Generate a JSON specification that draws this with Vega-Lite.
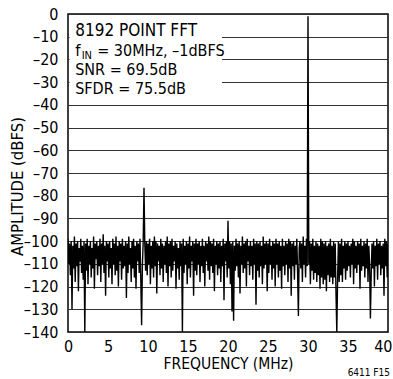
{
  "$schema": "https://vega.github.io/schema/vega-lite/v6.json",
  "width": 320,
  "height": 318,
  "autosize": "none",
  "padding": {"left": 68, "top": 14, "right": 5, "bottom": 47},
  "background": "white",
  "config": {
    "font": "DejaVu Sans Condensed",
    "view": {"stroke": "black", "strokeWidth": 1.5},
    "text": {"font": "DejaVu Sans Condensed", "fontWeight": "normal"},
    "axis": {"labelFont": "DejaVu Sans Condensed", "titleFont": "DejaVu Sans Condensed", "labelColor": "black", "titleColor": "black", "titleFontWeight": "normal"}
  },
  "data": {"values": [
{"f":0.0,"a":-99},{"f":0.1,"a":-110},{"f":0.2,"a":-101},{"f":0.3,"a":-115},{"f":0.4,"a":-100},{"f":0.5,"a":-130},{"f":0.6,"a":-102},{"f":0.7,"a":-112},{"f":0.8,"a":-98},{"f":0.9,"a":-118},
{"f":1.0,"a":-101},{"f":1.1,"a":-111},{"f":1.2,"a":-100},{"f":1.3,"a":-122},{"f":1.4,"a":-103},{"f":1.5,"a":-109},{"f":1.6,"a":-99},{"f":1.7,"a":-114},{"f":1.8,"a":-102},{"f":1.9,"a":-117},
{"f":2.0,"a":-100},{"f":2.1,"a":-140},{"f":2.2,"a":-101},{"f":2.3,"a":-113},{"f":2.4,"a":-99},{"f":2.5,"a":-119},{"f":2.6,"a":-102},{"f":2.7,"a":-110},{"f":2.8,"a":-100},{"f":2.9,"a":-116},
{"f":3.0,"a":-103},{"f":3.1,"a":-112},{"f":3.2,"a":-98},{"f":3.3,"a":-121},{"f":3.4,"a":-101},{"f":3.5,"a":-108},{"f":3.6,"a":-100},{"f":3.7,"a":-115},{"f":3.8,"a":-102},{"f":3.9,"a":-111},
{"f":4.0,"a":-99},{"f":4.1,"a":-118},{"f":4.2,"a":-101},{"f":4.3,"a":-110},{"f":4.4,"a":-97},{"f":4.5,"a":-114},{"f":4.6,"a":-102},{"f":4.7,"a":-124},{"f":4.8,"a":-100},{"f":4.9,"a":-109},
{"f":5.0,"a":-101},{"f":5.1,"a":-116},{"f":5.2,"a":-100},{"f":5.3,"a":-112},{"f":5.4,"a":-103},{"f":5.5,"a":-119},{"f":5.6,"a":-99},{"f":5.7,"a":-110},{"f":5.8,"a":-101},{"f":5.9,"a":-115},
{"f":6.0,"a":-98},{"f":6.1,"a":-113},{"f":6.2,"a":-102},{"f":6.3,"a":-120},{"f":6.4,"a":-100},{"f":6.5,"a":-109},{"f":6.6,"a":-101},{"f":6.7,"a":-117},{"f":6.8,"a":-99},{"f":6.9,"a":-112},
{"f":7.0,"a":-102},{"f":7.1,"a":-111},{"f":7.2,"a":-100},{"f":7.3,"a":-125},{"f":7.4,"a":-101},{"f":7.5,"a":-114},{"f":7.6,"a":-98},{"f":7.7,"a":-110},{"f":7.8,"a":-103},{"f":7.9,"a":-118},
{"f":8.0,"a":-100},{"f":8.1,"a":-112},{"f":8.2,"a":-99},{"f":8.3,"a":-116},{"f":8.4,"a":-102},{"f":8.5,"a":-121},{"f":8.6,"a":-100},{"f":8.7,"a":-109},{"f":8.8,"a":-101},{"f":8.9,"a":-114},
{"f":9.0,"a":-99},{"f":9.1,"a":-117},{"f":9.2,"a":-137},{"f":9.3,"a":-111},{"f":9.4,"a":-100},{"f":9.5,"a":-76.5},{"f":9.6,"a":-101},{"f":9.7,"a":-113},{"f":9.8,"a":-100},{"f":9.9,"a":-115},
{"f":10.0,"a":-101},{"f":10.1,"a":-110},{"f":10.2,"a":-99},{"f":10.3,"a":-119},{"f":10.4,"a":-102},{"f":10.5,"a":-112},{"f":10.6,"a":-100},{"f":10.7,"a":-116},{"f":10.8,"a":-98},{"f":10.9,"a":-111},
{"f":11.0,"a":-100},{"f":11.1,"a":-123},{"f":11.2,"a":-101},{"f":11.3,"a":-109},{"f":11.4,"a":-102},{"f":11.5,"a":-115},{"f":11.6,"a":-99},{"f":11.7,"a":-112},{"f":11.8,"a":-101},{"f":11.9,"a":-118},
{"f":12.0,"a":-102},{"f":12.1,"a":-110},{"f":12.2,"a":-100},{"f":12.3,"a":-114},{"f":12.4,"a":-98},{"f":12.5,"a":-120},{"f":12.6,"a":-101},{"f":12.7,"a":-111},{"f":12.8,"a":-100},{"f":12.9,"a":-116},
{"f":13.0,"a":-99},{"f":13.1,"a":-113},{"f":13.2,"a":-102},{"f":13.3,"a":-109},{"f":13.4,"a":-100},{"f":13.5,"a":-121},{"f":13.6,"a":-101},{"f":13.7,"a":-112},{"f":13.8,"a":-103},{"f":13.9,"a":-117},
{"f":14.0,"a":-100},{"f":14.1,"a":-111},{"f":14.2,"a":-101},{"f":14.3,"a":-140},{"f":14.4,"a":-99},{"f":14.5,"a":-114},{"f":14.6,"a":-102},{"f":14.7,"a":-110},{"f":14.8,"a":-100},{"f":14.9,"a":-119},
{"f":15.0,"a":-101},{"f":15.1,"a":-112},{"f":15.2,"a":-98},{"f":15.3,"a":-116},{"f":15.4,"a":-102},{"f":15.5,"a":-109},{"f":15.6,"a":-100},{"f":15.7,"a":-124},{"f":15.8,"a":-101},{"f":15.9,"a":-113},
{"f":16.0,"a":-99},{"f":16.1,"a":-115},{"f":16.2,"a":-101},{"f":16.3,"a":-110},{"f":16.4,"a":-100},{"f":16.5,"a":-118},{"f":16.6,"a":-102},{"f":16.7,"a":-111},{"f":16.8,"a":-99},{"f":16.9,"a":-114},
{"f":17.0,"a":-102},{"f":17.1,"a":-120},{"f":17.2,"a":-100},{"f":17.3,"a":-109},{"f":17.4,"a":-101},{"f":17.5,"a":-113},{"f":17.6,"a":-98},{"f":17.7,"a":-117},{"f":17.8,"a":-100},{"f":17.9,"a":-111},
{"f":18.0,"a":-101},{"f":18.1,"a":-114},{"f":18.2,"a":-99},{"f":18.3,"a":-122},{"f":18.4,"a":-102},{"f":18.5,"a":-110},{"f":18.6,"a":-100},{"f":18.7,"a":-115},{"f":18.8,"a":-101},{"f":18.9,"a":-112},
{"f":19.0,"a":-100},{"f":19.1,"a":-118},{"f":19.2,"a":-102},{"f":19.3,"a":-111},{"f":19.4,"a":-99},{"f":19.5,"a":-126},{"f":19.6,"a":-101},{"f":19.7,"a":-109},{"f":19.8,"a":-100},{"f":19.9,"a":-116},
{"f":20.0,"a":-91},{"f":20.1,"a":-112},{"f":20.2,"a":-100},{"f":20.3,"a":-119},{"f":20.4,"a":-101},{"f":20.5,"a":-131},{"f":20.6,"a":-100},{"f":20.7,"a":-135},{"f":20.8,"a":-102},{"f":20.9,"a":-113},
{"f":21.0,"a":-99},{"f":21.1,"a":-111},{"f":21.2,"a":-101},{"f":21.3,"a":-116},{"f":21.4,"a":-100},{"f":21.5,"a":-123},{"f":21.6,"a":-102},{"f":21.7,"a":-110},{"f":21.8,"a":-98},{"f":21.9,"a":-114},
{"f":22.0,"a":-101},{"f":22.1,"a":-112},{"f":22.2,"a":-100},{"f":22.3,"a":-120},{"f":22.4,"a":-99},{"f":22.5,"a":-109},{"f":22.6,"a":-102},{"f":22.7,"a":-115},{"f":22.8,"a":-100},{"f":22.9,"a":-111},
{"f":23.0,"a":-102},{"f":23.1,"a":-117},{"f":23.2,"a":-99},{"f":23.3,"a":-110},{"f":23.4,"a":-101},{"f":23.5,"a":-128},{"f":23.6,"a":-100},{"f":23.7,"a":-113},{"f":23.8,"a":-101},{"f":23.9,"a":-116},
{"f":24.0,"a":-100},{"f":24.1,"a":-111},{"f":24.2,"a":-102},{"f":24.3,"a":-119},{"f":24.4,"a":-98},{"f":24.5,"a":-112},{"f":24.6,"a":-101},{"f":24.7,"a":-110},{"f":24.8,"a":-100},{"f":24.9,"a":-122},
{"f":25.0,"a":-101},{"f":25.1,"a":-114},{"f":25.2,"a":-99},{"f":25.3,"a":-110},{"f":25.4,"a":-102},{"f":25.5,"a":-117},{"f":25.6,"a":-100},{"f":25.7,"a":-112},{"f":25.8,"a":-101},{"f":25.9,"a":-120},
{"f":26.0,"a":-99},{"f":26.1,"a":-110},{"f":26.2,"a":-101},{"f":26.3,"a":-116},{"f":26.4,"a":-100},{"f":26.5,"a":-113},{"f":26.6,"a":-102},{"f":26.7,"a":-121},{"f":26.8,"a":-99},{"f":26.9,"a":-111},
{"f":27.0,"a":-102},{"f":27.1,"a":-115},{"f":27.2,"a":-100},{"f":27.3,"a":-110},{"f":27.4,"a":-101},{"f":27.5,"a":-118},{"f":27.6,"a":-99},{"f":27.7,"a":-112},{"f":27.8,"a":-100},{"f":27.9,"a":-124},
{"f":28.0,"a":-101},{"f":28.1,"a":-111},{"f":28.2,"a":-100},{"f":28.3,"a":-117},{"f":28.4,"a":-102},{"f":28.5,"a":-110},{"f":28.6,"a":-99},{"f":28.7,"a":-114},{"f":28.8,"a":-133},{"f":28.9,"a":-103},
{"f":29.0,"a":-100},{"f":29.1,"a":-112},{"f":29.2,"a":-101},{"f":29.3,"a":-118},{"f":29.4,"a":-98},{"f":29.5,"a":-110},{"f":29.6,"a":-102},{"f":29.7,"a":-116},{"f":29.8,"a":-99},{"f":29.9,"a":-111},
{"f":30.0,"a":-1},{"f":30.1,"a":-110},{"f":30.2,"a":-100},{"f":30.3,"a":-119},{"f":30.4,"a":-101},{"f":30.5,"a":-113},{"f":30.6,"a":-99},{"f":30.7,"a":-117},{"f":30.8,"a":-102},{"f":30.9,"a":-114},
{"f":31.0,"a":-100},{"f":31.1,"a":-118},{"f":31.2,"a":-101},{"f":31.3,"a":-115},{"f":31.4,"a":-102},{"f":31.5,"a":-121},{"f":31.6,"a":-99},{"f":31.7,"a":-116},{"f":31.8,"a":-100},{"f":31.9,"a":-119},
{"f":32.0,"a":-101},{"f":32.1,"a":-117},{"f":32.2,"a":-100},{"f":32.3,"a":-122},{"f":32.4,"a":-102},{"f":32.5,"a":-115},{"f":32.6,"a":-101},{"f":32.7,"a":-118},{"f":32.8,"a":-99},{"f":32.9,"a":-116},
{"f":33.0,"a":-102},{"f":33.1,"a":-119},{"f":33.2,"a":-100},{"f":33.3,"a":-116},{"f":33.4,"a":-101},{"f":33.5,"a":-123},{"f":33.6,"a":-140},{"f":33.7,"a":-117},{"f":33.8,"a":-100},{"f":33.9,"a":-118},
{"f":34.0,"a":-101},{"f":34.1,"a":-115},{"f":34.2,"a":-99},{"f":34.3,"a":-118},{"f":34.4,"a":-102},{"f":34.5,"a":-112},{"f":34.6,"a":-100},{"f":34.7,"a":-117},{"f":34.8,"a":-101},{"f":34.9,"a":-113},
{"f":35.0,"a":-100},{"f":35.1,"a":-111},{"f":35.2,"a":-102},{"f":35.3,"a":-116},{"f":35.4,"a":-101},{"f":35.5,"a":-110},{"f":35.6,"a":-99},{"f":35.7,"a":-119},{"f":35.8,"a":-100},{"f":35.9,"a":-112},
{"f":36.0,"a":-102},{"f":36.1,"a":-114},{"f":36.2,"a":-100},{"f":36.3,"a":-110},{"f":36.4,"a":-101},{"f":36.5,"a":-121},{"f":36.6,"a":-99},{"f":36.7,"a":-113},{"f":36.8,"a":-102},{"f":36.9,"a":-111},
{"f":37.0,"a":-100},{"f":37.1,"a":-116},{"f":37.2,"a":-101},{"f":37.3,"a":-112},{"f":37.4,"a":-99},{"f":37.5,"a":-118},{"f":37.6,"a":-102},{"f":37.7,"a":-110},{"f":37.8,"a":-134},{"f":37.9,"a":-115},
{"f":38.0,"a":-101},{"f":38.1,"a":-112},{"f":38.2,"a":-100},{"f":38.3,"a":-120},{"f":38.4,"a":-102},{"f":38.5,"a":-111},{"f":38.6,"a":-99},{"f":38.7,"a":-117},{"f":38.8,"a":-101},{"f":38.9,"a":-110},
{"f":39.0,"a":-100},{"f":39.1,"a":-115},{"f":39.2,"a":-102},{"f":39.3,"a":-112},{"f":39.4,"a":-101},{"f":39.5,"a":-124},{"f":39.6,"a":-99},{"f":39.7,"a":-111},{"f":39.8,"a":-100},{"f":39.9,"a":-116},
{"f":40.0,"a":-101}
  ]},
  "layer": [
    {
      "mark": {"type": "line", "color": "black", "strokeWidth": 1.4, "clip": true, "interpolate": "linear"},
      "encoding": {
        "x": {"field": "f", "type": "quantitative", "scale": {"domain": [0, 40], "nice": false, "zero": false},
          "axis": {"values": [0,5,10,15,20,25,30,35,40], "labelOverlap": false, "labelFlush": false, "labelBound": false, "grid": false, "ticks": false, "domain": false, "labelFontSize": 16, "labelPadding": 6, "labelAlign": {"condition": {"test": "datum.value == 40", "value": "right"}, "value": "center"}, "labelOffset": {"condition": {"test": "datum.value == 40", "value": 4}, "value": 0}, "title": "FREQUENCY (MHz)", "titleFontSize": 15.5, "titlePadding": 2}},
        "y": {"field": "a", "type": "quantitative", "scale": {"domain": [-140, 0], "nice": false, "zero": false},
          "axis": {"values": [0,-10,-20,-30,-40,-50,-60,-70,-80,-90,-100,-110,-120,-130,-140], "labelOverlap": false, "labelFlush": false, "labelBound": false, "grid": true, "gridColor": "#333333", "gridWidth": 1, "gridOpacity": 1, "ticks": false, "domain": false, "labelFontSize": 16, "labelPadding": 10,
            "labelExpr": "replace(replace(datum.label, '\u2212', '\u2013'), '-', '\u2013')",
            "title": "AMPLITUDE (dBFS)", "titleFontSize": 16.5, "titleX": -43, "titleY": 172, "titleAngle": 270, "titleAlign": "center", "titleBaseline": "bottom"}}
      }
    },
    {
      "data": {"values": [{}]},
      "mark": {"type": "rect", "fill": "white", "stroke": null},
      "encoding": {
        "x": {"datum": 0.2, "type": "quantitative", "scale": {"domain": [0, 40], "nice": false, "zero": false},
          "axis": {"values": [0,5,10,15,20,25,30,35,40], "labelOverlap": false, "labelFlush": false, "labelBound": false, "grid": false, "ticks": false, "domain": false, "labelFontSize": 16, "labelPadding": 6, "labelAlign": {"condition": {"test": "datum.value == 40", "value": "right"}, "value": "center"}, "labelOffset": {"condition": {"test": "datum.value == 40", "value": 4}, "value": 0}, "title": "FREQUENCY (MHz)", "titleFontSize": 15.5, "titlePadding": 2}},
        "x2": {"datum": 19.25},
        "y": {"datum": -0.4, "type": "quantitative", "scale": {"domain": [-140, 0], "nice": false, "zero": false},
          "axis": {"values": [0,-10,-20,-30,-40,-50,-60,-70,-80,-90,-100,-110,-120,-130,-140], "labelOverlap": false, "labelFlush": false, "labelBound": false, "grid": true, "gridColor": "#333333", "gridWidth": 1, "gridOpacity": 1, "ticks": false, "domain": false, "labelFontSize": 16, "labelPadding": 10,
            "labelExpr": "replace(replace(datum.label, '\u2212', '\u2013'), '-', '\u2013')",
            "title": "AMPLITUDE (dBFS)", "titleFontSize": 16.5, "titleX": -43, "titleY": 172, "titleAngle": 270, "titleAlign": "center", "titleBaseline": "bottom"}},
        "y2": {"datum": -38}
      }
    },
    {
      "data": {"values": [{}]},
      "layer": [
        {"mark": {"type": "text", "align": "left", "baseline": "middle", "fontSize": 17, "color": "black", "dy": -20.4}, "encoding": {"text": {"value": "8192 POINT FFT"}}},
        {"mark": {"type": "text", "align": "left", "baseline": "middle", "fontSize": 16.5, "color": "black"}, "encoding": {"text": {"value": "f"}}},
        {"mark": {"type": "text", "align": "left", "baseline": "middle", "fontSize": 11, "color": "black", "dx": 6.5, "dy": 5}, "encoding": {"text": {"value": "IN"}}},
        {"mark": {"type": "text", "align": "left", "baseline": "middle", "fontSize": 16, "color": "black", "dx": 22}, "encoding": {"text": {"value": "= 30MHz, \u20131dBFS"}}},
        {"mark": {"type": "text", "align": "left", "baseline": "middle", "fontSize": 16, "color": "black", "dy": 19}, "encoding": {"text": {"value": "SNR = 69.5dB"}}},
        {"mark": {"type": "text", "align": "left", "baseline": "middle", "fontSize": 16, "color": "black", "dy": 37.5}, "encoding": {"text": {"value": "SFDR = 75.5dB"}}}
      ],
      "encoding": {
        "x": {"datum": 0.9, "type": "quantitative", "scale": {"domain": [0, 40], "nice": false, "zero": false},
          "axis": {"values": [0,5,10,15,20,25,30,35,40], "labelOverlap": false, "labelFlush": false, "labelBound": false, "grid": false, "ticks": false, "domain": false, "labelFontSize": 16, "labelPadding": 6, "labelAlign": {"condition": {"test": "datum.value == 40", "value": "right"}, "value": "center"}, "labelOffset": {"condition": {"test": "datum.value == 40", "value": 4}, "value": 0}, "title": "FREQUENCY (MHz)", "titleFontSize": 15.5, "titlePadding": 2}},
        "y": {"datum": -16.3, "type": "quantitative", "scale": {"domain": [-140, 0], "nice": false, "zero": false},
          "axis": {"values": [0,-10,-20,-30,-40,-50,-60,-70,-80,-90,-100,-110,-120,-130,-140], "labelOverlap": false, "labelFlush": false, "labelBound": false, "grid": true, "gridColor": "#333333", "gridWidth": 1, "gridOpacity": 1, "ticks": false, "domain": false, "labelFontSize": 16, "labelPadding": 10,
            "labelExpr": "replace(replace(datum.label, '\u2212', '\u2013'), '-', '\u2013')",
            "title": "AMPLITUDE (dBFS)", "titleFontSize": 16.5, "titleX": -43, "titleY": 172, "titleAngle": 270, "titleAlign": "center", "titleBaseline": "bottom"}}
      }
    },
    {
      "data": {"values": [{}]},
      "mark": {"type": "text", "align": "right", "baseline": "middle", "fontSize": 10, "color": "black", "dy": 41, "dx": 2},
      "encoding": {
        "x": {"datum": 40, "type": "quantitative", "scale": {"domain": [0, 40], "nice": false, "zero": false},
          "axis": {"values": [0,5,10,15,20,25,30,35,40], "labelOverlap": false, "labelFlush": false, "labelBound": false, "grid": false, "ticks": false, "domain": false, "labelFontSize": 16, "labelPadding": 6, "labelAlign": {"condition": {"test": "datum.value == 40", "value": "right"}, "value": "center"}, "labelOffset": {"condition": {"test": "datum.value == 40", "value": 4}, "value": 0}, "title": "FREQUENCY (MHz)", "titleFontSize": 15.5, "titlePadding": 2}},
        "y": {"datum": -140, "type": "quantitative", "scale": {"domain": [-140, 0], "nice": false, "zero": false},
          "axis": {"values": [0,-10,-20,-30,-40,-50,-60,-70,-80,-90,-100,-110,-120,-130,-140], "labelOverlap": false, "labelFlush": false, "labelBound": false, "grid": true, "gridColor": "#333333", "gridWidth": 1, "gridOpacity": 1, "ticks": false, "domain": false, "labelFontSize": 16, "labelPadding": 10,
            "labelExpr": "replace(replace(datum.label, '\u2212', '\u2013'), '-', '\u2013')",
            "title": "AMPLITUDE (dBFS)", "titleFontSize": 16.5, "titleX": -43, "titleY": 172, "titleAngle": 270, "titleAlign": "center", "titleBaseline": "bottom"}},
        "text": {"value": "6411 F15"}
      }
    }
  ]
}
